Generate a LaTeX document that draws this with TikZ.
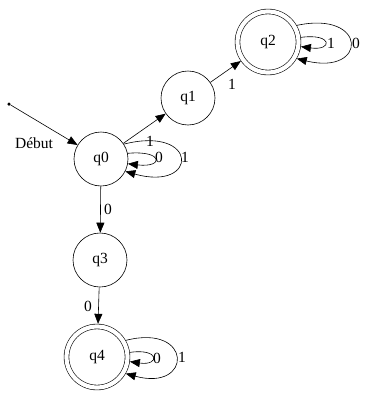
\documentclass[tikz,border=0pt]{standalone}
\usepackage{fontspec}
\setmainfont{Liberation Serif}
\usetikzlibrary{arrows.meta}
\tikzset{
  st/.style={circle,draw,line width=0.6pt,minimum size=54pt,inner sep=0pt,font=\fontsize{15.5}{17}\selectfont},
  acc/.style={st,double,double distance=4.2pt,minimum size=61pt,outer sep=2.7pt},
  tr/.style={line width=0.6pt,-{Triangle[length=10pt,width=8pt]}},
  lb/.style={font=\fontsize{15.5}{17}\selectfont,inner sep=1pt},
  dot/.style={circle,fill,inner sep=0pt,minimum size=3.5pt}
}
\begin{document}
\begin{tikzpicture}[x=1pt,y=-1pt]
\useasboundingbox (0,0) rectangle (367,399);
\node[st] (q0) at (101,159) {q0};
\node[st] (q1) at (188,98) {q1};
\node[acc] (q2) at (268,42) {q2};
\node[st] (q3) at (100,260) {q3};
\node[acc] (q4) at (97,357) {q4};
\node[dot] (s) at (9,104) {};
\draw[tr] (s) -- (q0); \node[lb] (ldeb) at (34,143) {Début};
\draw[tr] (q0) -- (q1); \node[lb] (l01) at (150,141) {1};
\draw[tr] (q1) -- (q2); \node[lb] (l12) at (232,84) {1};
\draw[tr] (q0) -- (q3); \node[lb] (l03) at (108,209) {0};
\draw[tr] (q3) -- (q4); \node[lb] (l34) at (88,306) {0};
% boucles
\draw[tr] (q0.12) .. controls (164,150) and (164,168) .. (q0.-10); \node[lb] (l00) at (159,157) {0};
\draw[tr] (q0.33) .. controls (199,125) and (199,192) .. (q0.-27); \node[lb] (l00b) at (185,157) {1};
\draw[tr] (q2.8) .. controls (333,33) and (333,51) .. (q2.-8); \node[lb] (l22) at (331,43) {1};
\draw[tr] (q2.30) .. controls (368,10) and (368,76) .. (q2.-30); \node[lb] (l22b) at (356,43) {0};
\draw[tr] (q4.8) .. controls (160,348) and (160,366) .. (q4.-8); \node[lb] (l44) at (157,358) {0};
\draw[tr] (q4.30) .. controls (193,323) and (193,392) .. (q4.-30); \node[lb] (l44b) at (182,357) {1};
\end{tikzpicture}
\end{document}
